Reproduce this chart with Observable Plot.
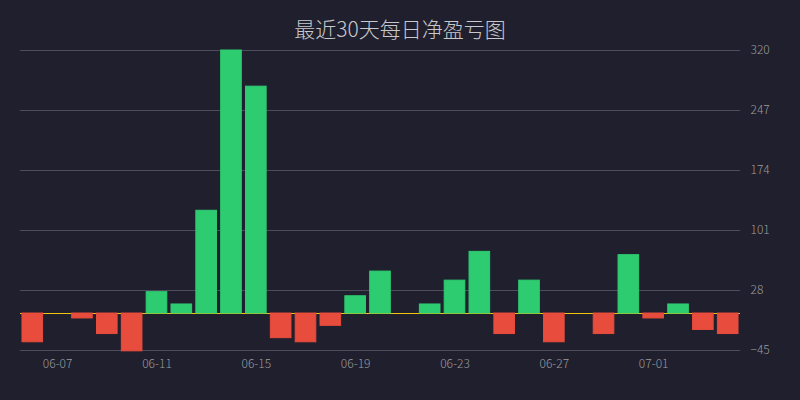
<!DOCTYPE html>
<html>
<head>
<meta charset="utf-8">
<script src="https://cdn.jsdelivr.net/npm/d3@7"></script>
<script src="https://cdn.jsdelivr.net/npm/@observablehq/plot@0.6"></script>
<style>
  html, body { margin: 0; padding: 0; background: #1f1f2e; }
  #wrap { position: relative; width: 800px; height: 400px; background: #1f1f2e; overflow: hidden; }
  #title { position: absolute; left: 0; top: 0; width: 800px; height: 56px; line-height: 56px; text-align: center;
           font-family: "Noto Sans CJK SC", "Noto Sans", sans-serif; font-weight: 300; font-size: 21px; color: #c8c8cc; z-index: 2; }
  #chart { position: absolute; left: 0; top: 0; }
</style>
</head>
<body>
<div id="wrap">
  <div id="title">最近30天每日净盈亏图</div>
  <div id="chart"></div>
</div>
<script>
const titleText = "最近30天每日净盈亏图";
const dates = ["06-06","06-07","06-08","06-09","06-10","06-11","06-12","06-13","06-14","06-15",
               "06-16","06-17","06-18","06-19","06-20","06-21","06-22","06-23","06-24","06-25",
               "06-26","06-27","06-28","06-29","06-30","07-01","07-02","07-03","07-04"];
const values = [-35, 0, -6, -25, -46, 26, 11, 125, 320, 276,
                -30, -35, -15, 21, 51, 0, 11, 40, 75, -25,
                40, -35, 0, -25, 71, -6, 11, -20, -25];
const xTickLabels = ["06-07","06-11","06-15","06-19","06-23","06-27","07-01"];
const yTicks = [-45, 28, 101, 174, 247, 320];

const green = "#2ecc71", red = "#e74c3c";
const data = dates.map((d, i) => ({date: d, value: values[i]}));
const colorOf = d => d.value >= 0 ? green : red;
const font = "'Noto Sans CJK SC', 'Noto Sans', sans-serif";

const chart = Plot.plot({
  width: 800,
  height: 400,
  marginTop: 50,
  marginBottom: 50,
  marginLeft: 20,
  marginRight: 60,
  style: {background: "transparent", color: "#9c9c9c", fontSize: "12px", fontFamily: font},
  x: {type: "band", domain: dates, paddingInner: 0.17, paddingOuter: 0.08, round: false},
  y: {domain: [-45, 320]},
  marks: [
    Plot.gridY(yTicks, {stroke: "#4c4c5a", strokeOpacity: 1, strokeWidth: 1}),
    Plot.axisY(yTicks, {anchor: "right", tickSize: 0, tickPadding: 10, label: null, fill: "#9c9c9c", fontWeight: 300}),
    Plot.axisX(xTickLabels, {anchor: "bottom", tickSize: 0, tickPadding: 9, label: null, fill: "#9c9c9c", fontWeight: 300}),
    Plot.ruleY([0], {stroke: "#f1c40f", strokeWidth: 1}),
    Plot.barY(data, {x: "date", y: "value", fill: colorOf, stroke: colorOf, strokeWidth: 1})
  ]
});
document.getElementById("chart").appendChild(chart);
</script>
</body>
</html>
